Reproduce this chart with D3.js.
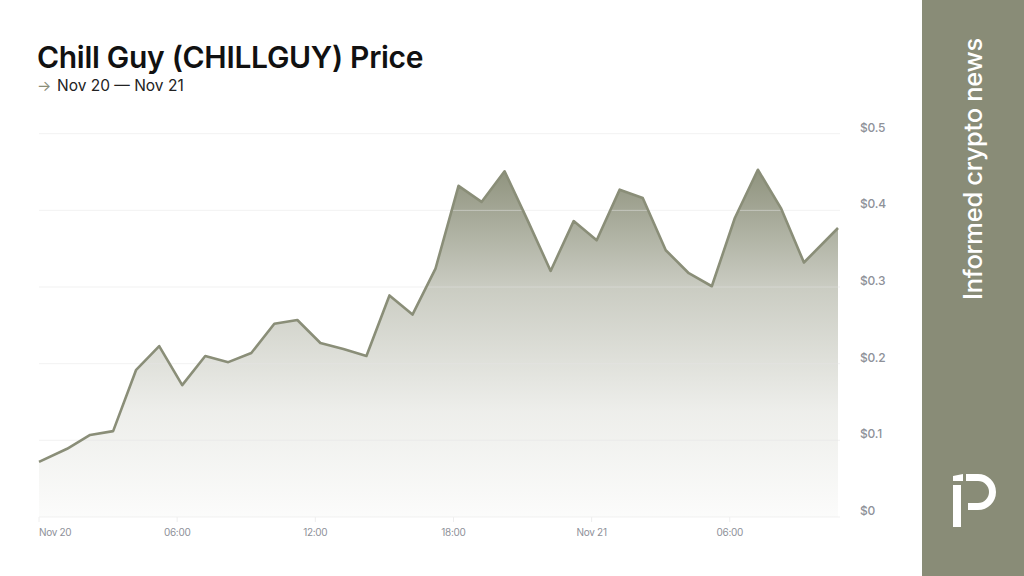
<!DOCTYPE html>
<html><head><meta charset="utf-8">
<script src="https://cdn.jsdelivr.net/npm/d3@7"></script>
<style>html,body{margin:0;padding:0;background:#fff;} svg{display:block}</style>
</head><body><svg id="c" width="1024" height="576"></svg>
<script>
// hours since Nov 20 00:00
const hours = [0, 1.22, 2.22, 3.22, 4.22, 5.22, 6.22, 7.22, 8.22, 9.22, 10.22, 11.22, 12.22, 13.22, 14.22, 15.22, 16.22, 17.22, 18.22, 19.22, 20.22, 21.22, 22.22, 23.22, 24.22, 25.22, 26.22, 27.22, 28.22, 29.22, 30.22, 31.22, 32.22, 33.22, 34.7];
const prices = [0.072, 0.089, 0.107, 0.112, 0.192, 0.223, 0.172, 0.210, 0.202, 0.214, 0.252, 0.257, 0.227, 0.219, 0.210, 0.289, 0.264, 0.324, 0.432, 0.411, 0.451, 0.387, 0.321, 0.386, 0.361, 0.427, 0.416, 0.348, 0.318, 0.301, 0.390, 0.453, 0.403, 0.332, 0.377];
const yTicks = [0, 0.1, 0.2, 0.3, 0.4, 0.5];
const xTickHours = [0, 6, 12, 18, 24, 30];
const xTickLabels = ["Nov 20", "06:00", "12:00", "18:00", "Nov 21", "06:00"];

const data = hours.map((h, i) => ({h, p: prices[i]}));
const svg = d3.select("#c");
const lineColor = "#8a8e78";

const x = d3.scaleLinear().domain([0, 34.7]).range([39, 838]);
const y = d3.scaleLinear().domain([0, 0.5]).range([517, 133.7]);

const defs = svg.append("defs");
const grad = defs.append("linearGradient").attr("id", "g")
  .attr("gradientUnits", "userSpaceOnUse")
  .attr("x1", 0).attr("x2", 0).attr("y1", y(0.46)).attr("y2", y(0));
grad.append("stop").attr("offset", "0%").attr("stop-color", lineColor).attr("stop-opacity", 0.98);
grad.append("stop").attr("offset", "35%").attr("stop-color", lineColor).attr("stop-opacity", 0.45);
grad.append("stop").attr("offset", "70%").attr("stop-color", lineColor).attr("stop-opacity", 0.15);
grad.append("stop").attr("offset", "100%").attr("stop-color", lineColor).attr("stop-opacity", 0.03);

svg.append("path").datum(data)
  .attr("d", d3.area().x(d => x(d.h)).y0(y(0)).y1(d => y(d.p)))
  .attr("fill", "url(#g)");

// grid
svg.append("g").selectAll("line").data(yTicks).join("line")
  .attr("x1", 39).attr("x2", 840)
  .attr("y1", d => y(d)).attr("y2", d => y(d))
  .attr("stroke", "#e6e6e6").attr("stroke-opacity", 0.5).attr("stroke-width", 1);

svg.append("path").datum(data)
  .attr("d", d3.line().x(d => x(d.h)).y(d => y(d.p)))
  .attr("fill", "none").attr("stroke", lineColor).attr("stroke-width", 2.6)
  .attr("stroke-linejoin", "round");

// y labels
svg.append("g").selectAll("text").data(yTicks).join("text")
  .attr("x", 860).attr("y", d => y(d) - 2)
  .attr("font-family", "Inter, sans-serif").attr("font-size", 12).attr("font-weight", 500)
  .attr("letter-spacing", -0.2)
  .attr("fill", "#8e9199")
  .text(d => "$" + d3.format("~g")(d));

// x ticks
svg.append("g").selectAll("line").data(xTickHours).join("line")
  .attr("x1", d => x(d)).attr("x2", d => x(d))
  .attr("y1", y(0)).attr("y2", y(0) + 5)
  .attr("stroke", "#eeeeee");
svg.append("g").selectAll("text").data(xTickHours).join("text")
  .attr("x", d => x(d)).attr("y", 536)
  .attr("text-anchor", (d, i) => i === 0 ? "start" : "middle")
  .attr("font-family", "Inter, sans-serif").attr("font-size", 10)
  .attr("letter-spacing", -0.3)
  .attr("fill", "#8e9199")
  .text((d, i) => xTickLabels[i]);

// title
svg.append("text").attr("x", 37).attr("y", 68)
  .attr("font-family", "Inter, sans-serif").attr("font-weight", 600)
  .attr("font-size", 30).attr("letter-spacing", -0.3).attr("fill", "#111")
  .text("Chill Guy (CHILLGUY) Price");
svg.append("text").attr("x", 37).attr("y", 91)
  .attr("font-family", "Inter, sans-serif").attr("font-size", 15)
  .attr("fill", "#8a8e78").text("→");
svg.append("text").attr("x", 57).attr("y", 91)
  .attr("font-family", "Inter, sans-serif").attr("font-size", 15.5)
  .attr("fill", "#222").text("Nov 20 — Nov 21");

// side panel
svg.append("rect").attr("x", 922).attr("y", 0).attr("width", 102).attr("height", 576).attr("fill", "#898c77");
svg.append("text").attr("transform", "translate(982,300) rotate(-90)")
  .attr("font-family", "Inter, sans-serif").attr("font-weight", 500)
  .attr("font-size", 25.5).attr("fill", "#fff").attr("letter-spacing", -0.3)
  .text("Informed crypto news");
// logo
const lg = svg.append("g").attr("fill", "#fff");
lg.append("path").attr("d", "M953,476 L963,474 L963,481 L953,481 Z");
lg.append("rect").attr("x", 953).attr("y", 485).attr("width", 8).attr("height", 42);
lg.append("path").attr("d", "M966,474 L978,474 A18,18 0 0 1 978,510 L968,510 L968,503 L978,503 A11,11 0 0 0 978,481 L966,481 Z");
</script></body></html>
